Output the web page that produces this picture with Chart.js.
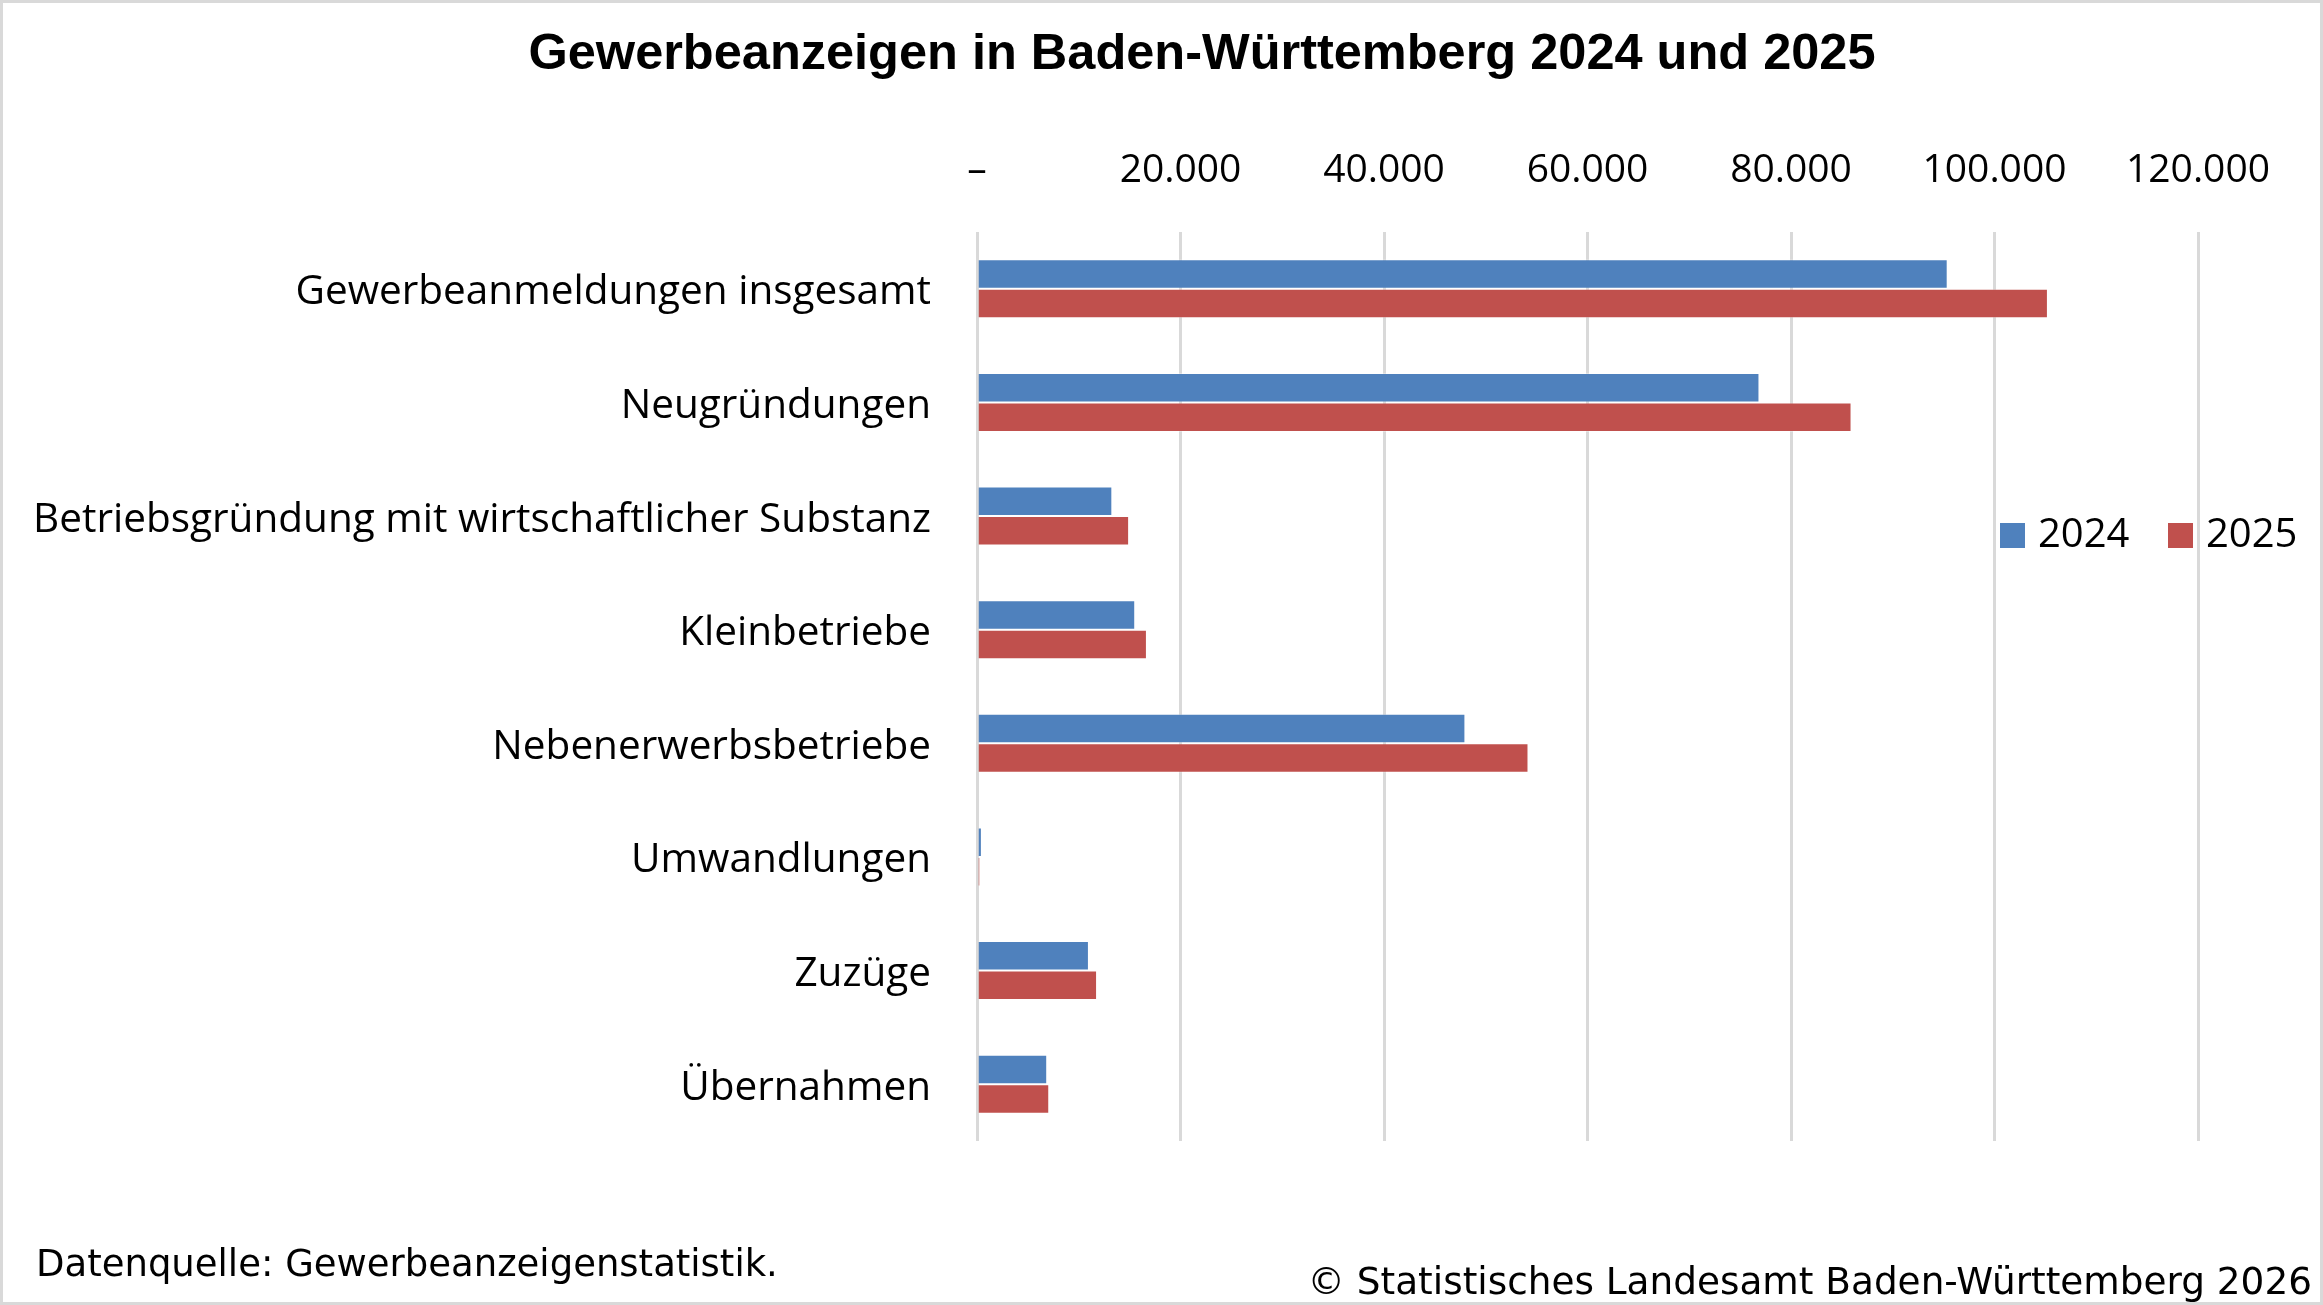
<!DOCTYPE html>
<html lang="de">
<head>
  <meta charset="UTF-8" />
  <title>Gewerbeanzeigen in Baden-Württemberg 2024 und 2025</title>
  <script src="https://cdn.jsdelivr.net/npm/chart.js"></script>
  <style>
    html, body { margin: 0; padding: 0; background: #fff; }
    #wrap { position: relative; width: 2323px; height: 1305px; box-sizing: border-box; border: 3px solid #d9d9d9; overflow: hidden; }
    #chart { position: absolute; left: -3px; top: -3px; }
    .txt { position: absolute; font-family: "DejaVu Sans", sans-serif; color: #000; white-space: nowrap; }
    #title { left: 1199px; top: 19px; transform: translateX(-50%); font-family: "Liberation Sans", Arial, sans-serif; font-weight: bold; font-size: 50.5px; }
    #source { left: 33px; top: 1239px; font-size: 37px; }
    #copy { right: 8px; top: 1256px; font-size: 37.4px; }
  </style>
</head>
<body>
<div id="wrap">
  <div id="title" class="txt">Gewerbeanzeigen in Baden-Württemberg 2024 und 2025</div>
  <canvas id="chart" width="2323" height="1305"></canvas>
  <div id="source" class="txt">Datenquelle: Gewerbeanzeigenstatistik.</div>
  <div id="copy" class="txt">© Statistisches Landesamt Baden-Württemberg 2026</div>
</div>

<script>
const categories = [
  'Gewerbeanmeldungen insgesamt',
  'Neugründungen',
  'Betriebsgründung mit wirtschaftlicher Substanz',
  'Kleinbetriebe',
  'Nebenerwerbsbetriebe',
  'Umwandlungen',
  'Zuzüge',
  'Übernahmen'
];
const seriesNames = ['2024', '2025'];
const values2024 = [95400, 76900, 13300, 15550, 48000, 480, 11000, 6900];
const values2025 = [105250, 85950, 14950, 16700, 54200, 300, 11800, 7100];
const tickLabels = ['–', '20.000', '40.000', '60.000', '80.000', '100.000', '120.000'];
const colors = ['#4f81bd', '#c0504d'];

const catFont = { family: '"Open Sans", sans-serif', size: 40.5 };
const tickFont = { family: '"Open Sans", sans-serif', size: 39 };

// legend sits inside the plot, right side
const legendPlugin = {
  id: 'insideLegend',
  afterDraw(chart) {
    const ctx = chart.ctx;
    ctx.save();
    ctx.font = '40px ' + tickFont.family;
    ctx.textBaseline = 'middle';
    let x = 2000;
    const y = 535;
    seriesNames.forEach((name, i) => {
      ctx.fillStyle = colors[i];
      ctx.fillRect(x, y - 12, 25, 25);
      ctx.fillStyle = '#000';
      ctx.fillText(name, x + 38, y + 1);
      x += 168;
    });
    ctx.restore();
  }
};

new Chart(document.getElementById('chart'), {
  type: 'bar',
  data: {
    labels: categories,
    datasets: [
      { label: seriesNames[0], data: values2024, backgroundColor: colors[0], borderColor: 'rgba(255,255,255,0.35)', borderWidth: 1 },
      { label: seriesNames[1], data: values2025, backgroundColor: colors[1], borderColor: 'rgba(255,255,255,0.35)', borderWidth: 1 }
    ]
  },
  options: {
    indexAxis: 'y',
    responsive: false,
    animation: false,
    devicePixelRatio: 1,
    layout: { padding: { left: 0, right: 125, top: 0, bottom: 164 } },
    datasets: { bar: { categoryPercentage: 0.52, barPercentage: 1.0 } },
    plugins: {
      legend: { display: false },
      title: { display: false },
      tooltip: { enabled: false }
    },
    scales: {
      x: {
        position: 'top',
        min: 0,
        max: 120000,
        afterFit(scale) { scale.height = 232; },
        ticks: {
          stepSize: 20000,
          color: '#000',
          font: tickFont,
          padding: 38,
          callback: (v) => tickLabels[Math.round(v / 20000)]
        },
        grid: { color: '#d9d9d9', lineWidth: 3, drawTicks: false },
        border: { display: false }
      },
      y: {
        afterFit(scale) { scale.width = 977; },
        ticks: { color: '#000', font: catFont, padding: 38, labelOffset: 4 },
        grid: { display: false },
        border: { display: false }
      }
    }
  },
  plugins: [legendPlugin]
});
</script>
</body>
</html>
